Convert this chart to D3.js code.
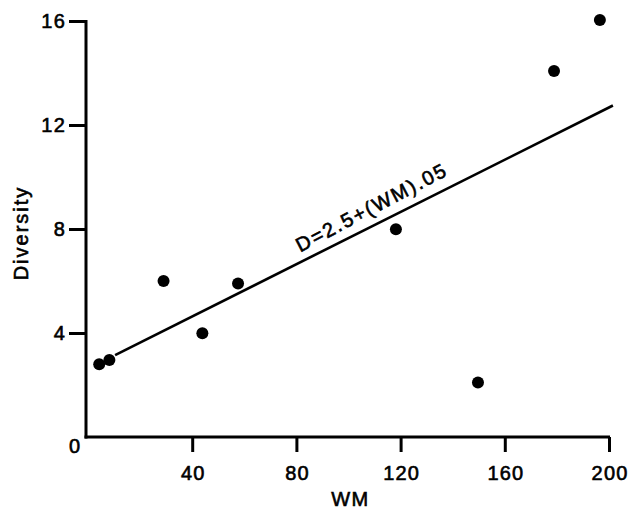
<!DOCTYPE html>
<html>
<head>
<meta charset="utf-8">
<script src="https://cdn.jsdelivr.net/npm/d3@7"></script>
<style>
  html, body { margin: 0; padding: 0; background: #fff; }
  svg { display: block; }
  text { font-family: "Liberation Sans", Arial, Helvetica, sans-serif; fill: #000; stroke: #000; stroke-width: 0.6px; }
</style>
</head>
<body>
<svg id="chart" width="629" height="510"></svg>
<script>
// ---- data ----
const wm        = [4.3, 8.2, 29, 43.9, 57.6, 118.2, 149.7, 178.9, 196.5];
const diversity = [2.8, 2.96, 6.0, 3.99, 5.9, 7.99, 2.1, 14.08, 16.04];
const fitWM     = [10.4, 201.5];
const fitD      = [3.15, 12.75];
const xTicks    = [40, 80, 120, 160, 200];
const yTicks    = [4, 8, 12, 16];
const xTitle    = "WM";
const yTitle    = "Diversity";
const fitLabel  = "D=2.5+(WM).05";

const svg = d3.select("#chart");
const x = d3.scaleLinear().domain([0, 200]).range([88, 609]);
const y = d3.scaleLinear().domain([0, 16]).range([437, 21]);

const axisColor = "#000";
const sw = 3;

// X axis
const gx = svg.append("g").attr("transform", `translate(0,${y(0)})`)
  .call(d3.axisBottom(x).tickValues(xTicks).tickSize(15).tickPadding(14).tickSizeOuter(0));
gx.select(".domain").remove();
gx.selectAll(".tick line").attr("stroke", axisColor).attr("stroke-width", sw);
gx.selectAll(".tick text").attr("font-size", 20).attr("letter-spacing", 1.2)
  .attr("dx", 0.6).attr("fill", "#000").attr("font-family", null);

// Y axis
const gy = svg.append("g").attr("transform", `translate(${x(0) - 2},0)`)
  .call(d3.axisLeft(y).tickValues(yTicks).tickSize(17).tickPadding(3).tickSizeOuter(0));
gy.select(".domain").remove();
gy.selectAll(".tick line").attr("stroke", axisColor).attr("stroke-width", sw);
gy.selectAll(".tick text").attr("font-size", 20).attr("letter-spacing", 1.2)
  .attr("fill", "#000").attr("font-family", null);

// axis lines
svg.append("line")
  .attr("x1", x(0) - 2).attr("x2", x(0) - 2)
  .attr("y1", y(0) + sw / 2).attr("y2", y(16) - 1)
  .attr("stroke", axisColor).attr("stroke-width", sw);
svg.append("line")
  .attr("x1", x(0) - 2 - sw / 2).attr("x2", x(200) + 1)
  .attr("y1", y(0)).attr("y2", y(0))
  .attr("stroke", axisColor).attr("stroke-width", sw);

// corner zero label
svg.append("text")
  .attr("x", x(0) - 8).attr("y", y(0) + 16)
  .attr("text-anchor", "end").attr("font-size", 20)
  .text("0");

// axis titles
svg.append("text")
  .attr("x", x(100) + 2).attr("y", 506)
  .attr("text-anchor", "middle").attr("font-size", 20).attr("letter-spacing", 1.5)
  .text(xTitle);
svg.append("text")
  .attr("transform", `translate(28,233) rotate(-90)`)
  .attr("text-anchor", "middle").attr("font-size", 20).attr("letter-spacing", 2)
  .text(yTitle);

// fitted line
svg.append("line")
  .attr("x1", x(fitWM[0])).attr("y1", y(fitD[0]))
  .attr("x2", x(fitWM[1])).attr("y2", y(fitD[1]))
  .attr("stroke", "#000").attr("stroke-width", 2.6);

// label along line
const ang = Math.atan2(y(fitD[1]) - y(fitD[0]), x(fitWM[1]) - x(fitWM[0])) * 180 / Math.PI;
svg.append("text")
  .attr("transform", `translate(${x(81.5)},${y(7.1)}) rotate(${ang - 1})`)
  .attr("font-size", 20).attr("letter-spacing", 2)
  .text(fitLabel);

// points
svg.append("g").selectAll("circle")
  .data(wm.map((v, i) => [v, diversity[i]]))
  .join("circle")
  .attr("cx", d => x(d[0])).attr("cy", d => y(d[1]))
  .attr("r", 6).attr("fill", "#000");
</script>
</body>
</html>
